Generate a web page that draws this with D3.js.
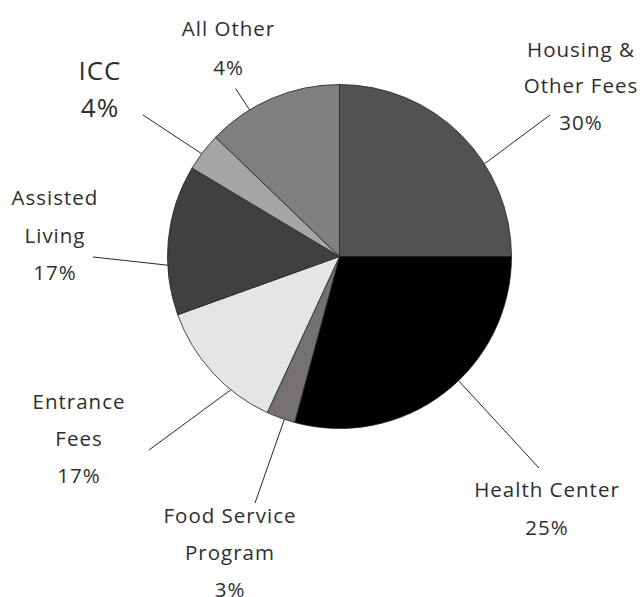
<!DOCTYPE html>
<html>
<head>
<meta charset="utf-8">
<script src="https://cdn.jsdelivr.net/npm/d3@7"></script>
<style>
  body { margin: 0; background: #fff; }
  svg { display: block; }
  text { font-family: "Open Sans", "Noto Sans", sans-serif; font-weight: 400; letter-spacing: 1px; fill: #2e2e2e; }
</style>
</head>
<body>
<svg id="chart"></svg>
<script>
// slice sizes as drawn (share of the circle), and the printed labels
var categories = ["Housing & Other Fees", "Health Center", "Food Service Program", "Entrance Fees", "Assisted Living", "ICC", "All Other"]
var sliceValues = [25, 29.2, 2.7, 12.6, 14.1, 3.6, 12.8]
var labelLines = [["Housing &", "Other Fees", "30%"], ["Health Center", "25%"], ["Food Service", "Program", "3%"], ["Entrance", "Fees", "17%"], ["Assisted", "Living", "17%"], ["ICC", "4%"], ["All Other", "4%"]]
var sliceColors = ["#525252", "#000000", "#767171", "#e5e5e5", "#404040", "#a5a5a5", "#7f7f7f"]

var dimensions = {
    width: 644,
    height: 597,
    cx: 339.5,
    cy: 256.5,
    radius: 172
}

// label placement: angle where the leader leaves the pie, leader end, text anchor
var labelLayout = [
    { angle: 57.4, end: [550, 115], x: 581, y: 56.5, size: 20.5, step: 36.8 },
    { angle: 136.2, end: [539, 468], x: 547, y: 496.5, size: 20.5, step: 38.5 },
    { angle: 198.7, end: [255, 503], x: 230, y: 522.5, size: 20.5, step: 37.2 },
    { angle: 219.2, end: [149, 450], x: 79, y: 409, size: 20.5, step: 37.2 },
    { angle: 267.1, end: [93, 257], x: 55, y: 205, size: 20.5, step: 37.5 },
    { angle: 306.7, end: [143, 115], x: 100, y: 80, size: 26, step: 36.7 },
    { angle: 328.5, end: [235.5, 88.5], x: 228.5, y: 36, size: 20.5, step: 39 }
]

var svg = d3.select("#chart")
    .attr("width", dimensions.width)
    .attr("height", dimensions.height)

var pie = d3.pie()
    .sort(null)
    .value(d => d)

var arc = d3.arc()
    .innerRadius(0)
    .outerRadius(dimensions.radius)

var arcs = pie(sliceValues)

var g = svg.append("g")
    .attr("transform", "translate(" + dimensions.cx + "," + dimensions.cy + ")")

g.selectAll(".slice")
    .data(arcs)
    .enter()
    .append("path")
    .attr("class", "slice")
    .attr("d", arc)
    .attr("fill", (d, i) => sliceColors[i])
    .attr("stroke", "#222")
    .attr("stroke-width", 0.8)
    .attr("stroke-linejoin", "round")

// leader lines
svg.selectAll(".leader")
    .data(labelLayout)
    .enter()
    .append("line")
    .attr("class", "leader")
    .attr("x1", d => dimensions.cx + dimensions.radius * Math.sin(d.angle * Math.PI / 180))
    .attr("y1", d => dimensions.cy - dimensions.radius * Math.cos(d.angle * Math.PI / 180))
    .attr("x2", d => d.end[0])
    .attr("y2", d => d.end[1])
    .attr("stroke", "#262626")
    .attr("stroke-width", 1)

// labels
labelLayout.forEach(function (l, i) {
    var t = svg.append("text")
        .attr("text-anchor", "middle")
        .style("font-size", l.size + "px")
    labelLines[i].forEach(function (line, j) {
        t.append("tspan")
            .attr("x", l.x)
            .attr("y", l.y + j * l.step)
            .text(line)
    })
})
</script>
</body>
</html>
